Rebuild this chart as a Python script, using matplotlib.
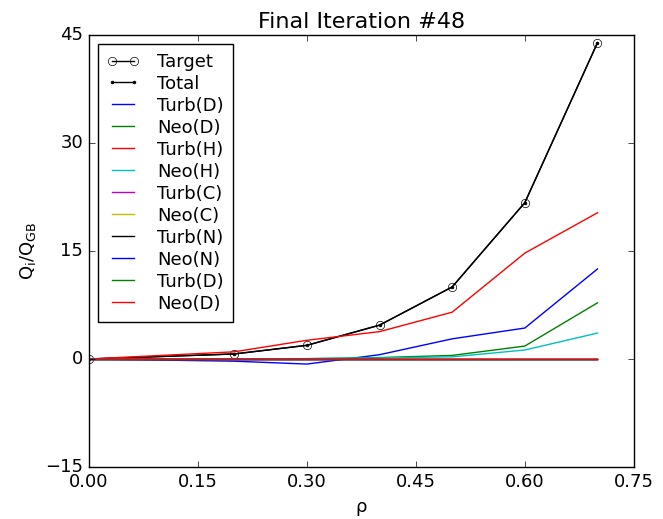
import numpy as np
import matplotlib
matplotlib.use('Agg')
import matplotlib.pyplot as plt

plt.style.use('classic')
plt.rcParams['mathtext.default'] = 'regular'

rho = [0.0, 0.2, 0.3, 0.4, 0.5, 0.6, 0.7]
target = [0.0, 0.7, 1.9, 4.7, 10.0, 21.7, 43.9]
total = [0.0, 0.7, 1.9, 4.7, 10.0, 21.7, 43.9]

labels = ['Turb(D)', 'Neo(D)', 'Turb(H)', 'Neo(H)', 'Turb(C)', 'Neo(C)',
          'Turb(N)', 'Neo(N)', 'Turb(D)', 'Neo(D)']
colors = ['b', 'g', 'r', 'c', 'm', 'y', 'k', 'b', 'g', 'r']
turb_d = [0.0, -0.3, -0.7, 0.6, 2.8, 4.3, 12.5]
neo_d = [0.0, 0.0, 0.05, 0.2, 0.5, 1.8, 7.8]
turb_h = [0.0, 1.0, 2.6, 3.8, 6.5, 14.7, 20.3]
neo_h = [0.0, 0.0, 0.05, 0.15, 0.3, 1.25, 3.6]
zeros = [0.0] * len(rho)
series = [turb_d, neo_d, turb_h, neo_h, zeros, zeros, zeros, zeros, zeros, zeros]

fig = plt.figure(figsize=(6.63, 5.19), dpi=100, facecolor='white')
ax = fig.add_axes([0.134, 0.100, 0.822, 0.833])

ax.plot(rho, target, 'o-', color='k', mfc='none', mec='k', ms=6, label='Target')
ax.plot(rho, total, '.-', color='k', ms=4, label='Total')
for y, c, lab in zip(series, colors, labels):
    ax.plot(rho, y, '-', color=c, label=lab)

ax.set_xlim(0, 0.75)
ax.set_ylim(-15, 45)
ax.set_xticks(np.arange(0, 0.76, 0.15))
ax.set_xticklabels(['0.00', '0.15', '0.30', '0.45', '0.60', '0.75'])
ax.set_yticks([-15, 0, 15, 30, 45])
ax.tick_params(labelsize=13)
ax.set_xlabel(r'ρ', fontsize=13)
ax.set_ylabel(r'$Q_i/Q_{GB}$', fontsize=13)
ax.set_title('Final Iteration #48', fontsize=16)
ax.legend(loc='upper left', fontsize=13, numpoints=2, handlelength=1.8,
          labelspacing=0.22, handletextpad=1.0, borderpad=0.5)

fig.savefig('out.png', dpi=100, facecolor='white')
